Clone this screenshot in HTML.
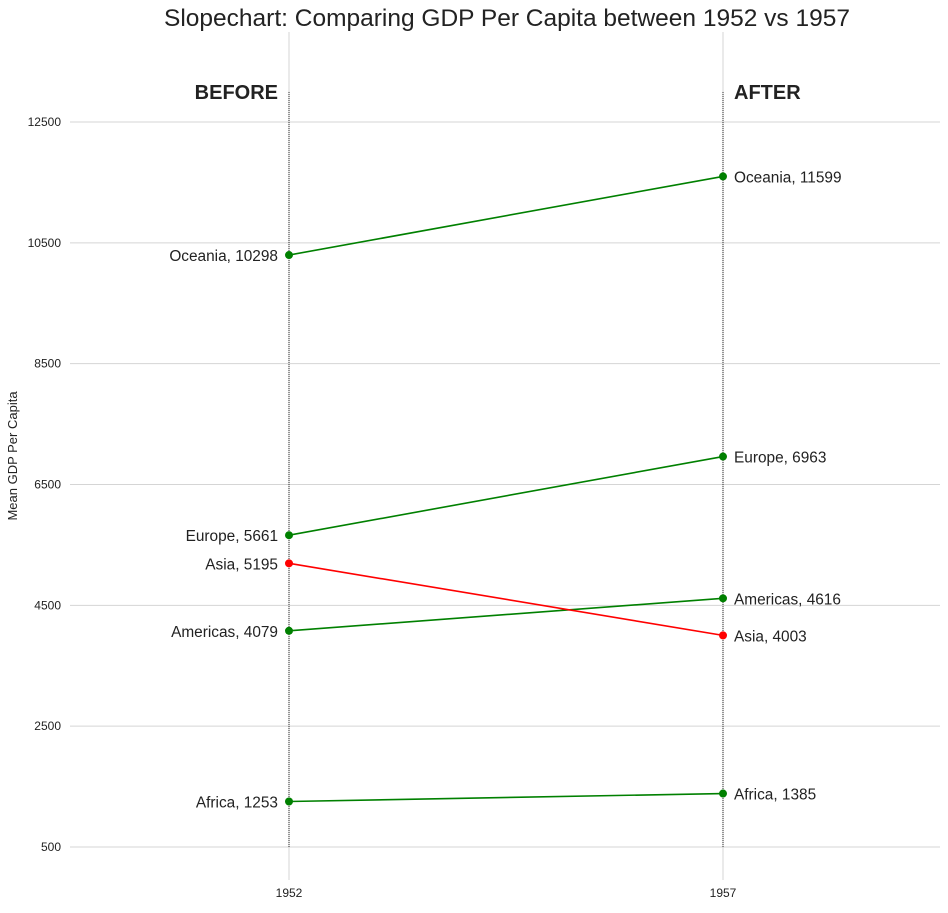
<!DOCTYPE html>
<html><head><meta charset="utf-8"><style>
body{margin:0;background:#fff;font-family:"Liberation Sans",sans-serif}
svg text{font-family:"Liberation Sans",sans-serif}
</style></head><body>
<svg id="chart" width="948" height="908" xmlns="http://www.w3.org/2000/svg">
<text x="507" y="26" font-size="24.5" text-anchor="middle" fill="#222">Slopechart: Comparing GDP Per Capita between 1952 vs 1957</text>
<text transform="translate(17,456) rotate(-90)" font-size="13" text-anchor="middle" fill="#222">Mean GDP Per Capita</text>
<g id="grid"></g><g id="marks"></g>
</svg>
<script>
const continents=["Africa","Americas","Asia","Europe","Oceania"];
const before=[1253,4079,5195,5661,10298];
const after=[1385,4616,4003,6963,11599];
const yTicks=[500,2500,4500,6500,8500,10500,12500];
const xTicks=["1952","1957"];
const ns="http://www.w3.org/2000/svg";
const y=v=>847-(v-500)*(725/12000);
const x=i=>[289,723][i];
const L=70,R=940,T=32,B=880;
function el(t,a,p){const e=document.createElementNS(ns,t);for(const k in a)e.setAttribute(k,a[k]);p.appendChild(e);return e;}
const g=document.getElementById('grid'),m=document.getElementById('marks');
yTicks.forEach(v=>{
 const l=el('line',{x1:L,x2:R,y1:y(v),y2:y(v),stroke:'#d5d5d5','stroke-width':1},g);
 
 const t=el('text',{x:61,y:y(v)+4,'font-size':12,'text-anchor':'end',fill:'#222'},g);t.textContent=v;
 
});
xTicks.forEach((s,i)=>{
 const l=el('line',{x1:x(i),x2:x(i),y1:T,y2:B,stroke:'#d5d5d5','stroke-width':1},g);
 
 const d=el('line',{x1:x(i),x2:x(i),y1:92,y2:847,stroke:'#000','stroke-width':0.8,'stroke-dasharray':'1,1'},g);
 
 const t=el('text',{x:x(i),y:897,'font-size':12,'text-anchor':'middle',fill:'#222'},g);t.textContent=s;
 
});
let hb=el('text',{x:278,y:99,'font-size':20,'font-weight':'bold','text-anchor':'end',fill:'#222'},g);hb.textContent='BEFORE';

let ha=el('text',{x:734,y:99,'font-size':20,'font-weight':'bold',fill:'#222'},g);ha.textContent='AFTER';

continents.forEach((c,i)=>{
 const col=after[i]>=before[i]?'#008000':'#ff0000';
 const ln=el('line',{x1:x(0),y1:y(before[i]),x2:x(1),y2:y(after[i]),stroke:col,'stroke-width':1.6},m);
 
 [[0,before[i]],[1,after[i]]].forEach(([k,v])=>{
  const p=el('circle',{cx:x(k),cy:y(v),r:4,fill:col},m);
  
  const t=el('text',{x:k?x(k)+11:x(k)-11,y:y(v)+6,'font-size':15.4,'text-anchor':k?'start':'end',fill:'#222'},m);
  t.textContent=c+', '+v;
  
 });
});
</script>
</body></html>
